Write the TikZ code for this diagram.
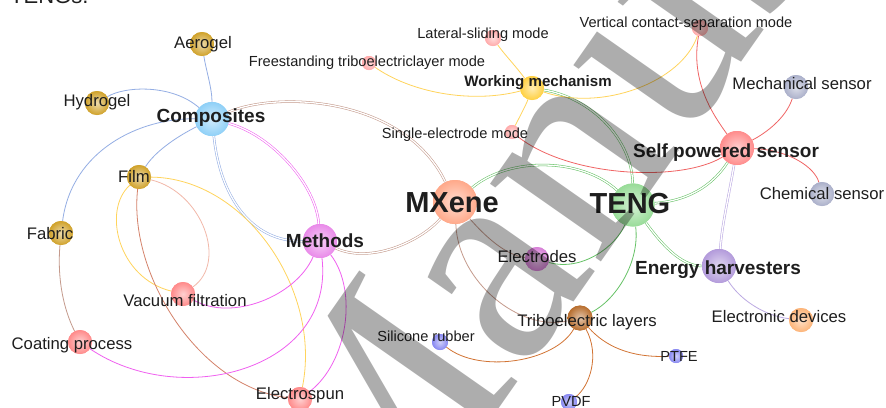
\documentclass[tikz,border=0pt]{standalone}
\usepackage{fontspec}
\setmainfont{Liberation Sans}
\newfontfamily\wmfont{Liberation Serif}
\definecolor{txt}{HTML}{1E1E1E}
\definecolor{cgold}{HTML}{D0A22A}
\definecolor{cblue}{HTML}{8FD0F7}
\definecolor{cmeth}{HTML}{E98AE9}
\definecolor{cmx}{HTML}{FFA98A}
\definecolor{cteng}{HTML}{98DC98}
\definecolor{cpink}{HTML}{FF8A8A}
\definecolor{cmode}{HTML}{FFAAAA}
\definecolor{cwm}{HTML}{FFD040}
\definecolor{csps}{HTML}{FF8C8C}
\definecolor{csens}{HTML}{ABB0CA}
\definecolor{ceh}{HTML}{B39BDB}
\definecolor{ced}{HTML}{FDB478}
\definecolor{celec}{HTML}{D77FD7}
\definecolor{ctribo}{HTML}{B86E2E}
\definecolor{cmat}{HTML}{8888F2}
\definecolor{eblue}{HTML}{94AEE4}
\definecolor{erose}{HTML}{C49A8C}
\definecolor{eyel}{HTML}{FFD45C}
\definecolor{esalm}{HTML}{F2B9AA}
\definecolor{ebrick}{HTML}{D4826A}
\definecolor{emag}{HTML}{F060F0}
\definecolor{egreen}{HTML}{66C266}
\definecolor{ered}{HTML}{F06464}
\definecolor{elav}{HTML}{BBA9E2}
\definecolor{eorange}{HTML}{D27434}
\tikzset{
  gn/.style 2 args={circle, minimum size=#1, inner sep=0pt, draw=none,
    inner color=#2!40!white, outer color=#2},
  lab/.style={anchor=base, inner sep=0pt, text=txt},
  ls/.style={lab, font=\fontsize{14.6}{16}\selectfont},
  lm/.style={lab, font=\fontsize{16.7}{18}\selectfont},
  lb/.style={lab, font=\fontsize{19}{21}\selectfont\bfseries},
  lbw/.style={lab, font=\fontsize{15.1}{17}\selectfont\bfseries},
  lxl/.style={lab, font=\fontsize{29}{31}\selectfont\bfseries},
  ed/.style={line width=0.8pt},
  dbl/.style={line width=0.55pt, double=white, double distance=1.3pt},
}
\begin{document}
\begin{tikzpicture}[x=1pt,y=-1pt]
\useasboundingbox (0,0) rectangle (886,407);
\clip (0,0) rectangle (886,407);
\fill[white] (0,0) rectangle (886,407);

% node positions (circles)
\node[gn={24pt}{cgold}] (aer) at (202,44) {};
\node[gn={24pt}{cgold}] (hyd) at (97,103) {};
\node[gn={34pt}{cblue}] (comp) at (212,119) {};
\node[gn={24pt}{cgold}] (film) at (139,177) {};
\node[gn={24pt}{cgold}] (fab) at (61,233) {};
\node[gn={24pt}{cpink}] (vf) at (183,294) {};
\node[gn={24pt}{cpink}] (cp) at (80,342) {};
\node[gn={24pt}{cpink}] (es) at (300,399) {};
\node[gn={34pt}{cmeth}] (meth) at (320,241) {};
\node[gn={44pt}{cmx}] (mx) at (455,202) {};
\node[gn={43pt}{cteng}] (teng) at (633,205) {};
\node[gn={24pt}{cwm}] (wm) at (532,88) {};
\node[gn={16pt}{cmode}] (ls) at (493,38) {};
\node[gn={14pt}{cmode}] (ft) at (369,63) {};
\node[gn={14pt}{cmode}] (se) at (512,132) {};
\node[gn={16pt}{cmode}] (vc) at (700,28) {};
\node[gn={24pt}{csens}] (ms) at (796,87) {};
\node[gn={34pt}{csps}] (sps) at (737,148) {};
\node[gn={24pt}{csens}] (cs) at (822,194) {};
\node[gn={34pt}{ceh}] (eh) at (719,266) {};
\node[gn={24pt}{ced}] (edv) at (801,320) {};
\node[gn={14pt}{cmat}] (ptfe) at (676,356) {};
\node[gn={25pt}{ctribo}] (tl) at (580,318) {};
\node[gn={24pt}{celec}] (el) at (537,259) {};
\node[gn={16pt}{cmat}] (sr) at (440,342) {};
\node[gn={16pt}{cmat}] (pvdf) at (569,402) {};

% edges
\draw[ed, eblue] (aer) .. controls (206,70) and (212,88) .. (comp);
\draw[ed, eblue] (hyd) .. controls (125,86) and (172,84) .. (comp);
\draw[ed, eblue] (comp) .. controls (140,118) and (72,150) .. (fab);
\draw[ed, eblue] (comp) .. controls (180,135) and (156,150) .. (film);
\draw[dbl, eblue] (comp) .. controls (220,195) and (250,242) .. (meth);
\draw[dbl, emag] (comp) .. controls (272,135) and (316,185) .. (meth);
\draw[dbl, erose] (comp) .. controls (280,90) and (405,98) .. (mx);
\draw[dbl, erose] (meth) .. controls (370,264) and (420,242) .. (mx);
\draw[ed, esalm] (film) .. controls (202,192) and (228,262) .. (vf);
\draw[ed, eyel] (film) .. controls (102,210) and (118,278) .. (vf);
\draw[ed, ebrick] (film) .. controls (128,275) and (200,388) .. (es);
\draw[ed, eyel] (film) .. controls (245,178) and (322,290) .. (es);
\draw[ed, erose] (fab) .. controls (57,280) and (64,310) .. (cp);
\draw[ed, emag] (cp) .. controls (180,410) and (335,370) .. (meth);
\draw[ed, emag] (meth) .. controls (296,296) and (232,322) .. (vf);
\draw[ed, emag] (meth) .. controls (358,290) and (348,362) .. (es);
\draw[ed, erose] (mx) .. controls (485,236) and (505,255) .. (el);
\draw[ed, erose] (mx) .. controls (458,282) and (520,332) .. (tl);
\draw[dbl, egreen] (mx) .. controls (510,156) and (582,158) .. (teng);
\draw[ed, egreen] (el) .. controls (582,272) and (616,246) .. (teng);
\draw[ed, egreen] (teng) .. controls (640,262) and (616,300) .. (tl);
\draw[dbl, egreen] (wm) .. controls (592,98) and (632,140) .. (teng);
\draw[dbl, egreen] (teng) .. controls (695,200) and (716,180) .. (sps);
\draw[dbl, egreen] (teng) .. controls (660,242) and (680,266) .. (eh);
\draw[ed, eyel] (wm) .. controls (514,64) and (504,54) .. (ls);
\draw[ed, eyel] (wm) .. controls (470,104) and (410,92) .. (ft);
\draw[ed, eyel] (wm) .. controls (602,112) and (682,82) .. (vc);
\draw[ed, eyel] (wm) .. controls (526,105) and (520,116) .. (se);
\draw[ed, ered] (se) .. controls (570,178) and (682,182) .. (sps);
\draw[ed, ered] (vc) .. controls (690,82) and (714,116) .. (sps);
\draw[ed, ered] (ms) .. controls (786,118) and (766,133) .. (sps);
\draw[ed, ered] (sps) .. controls (790,150) and (815,168) .. (cs);
\draw[dbl, elav] (sps) .. controls (728,200) and (722,225) .. (eh);
\draw[ed, elav] (eh) .. controls (740,300) and (765,316) .. (edv);
\draw[ed, eorange] (tl) .. controls (555,362) and (480,374) .. (sr);
\draw[ed, eorange] (tl) .. controls (605,346) and (630,358) .. (ptfe);
\draw[ed, eorange] (tl) .. controls (600,355) and (590,386) .. (pvdf);

% circles redrawn on top of the edges
\foreach \n/\x/\y/\s/\c in {aer/202/44/24/cgold, hyd/97/103/24/cgold, comp/212/119/34/cblue,
  film/139/177/24/cgold, fab/61/233/24/cgold, vf/183/294/24/cpink, cp/80/342/24/cpink,
  es/300/399/24/cpink, meth/320/241/34/cmeth, mx/455/202/44/cmx, teng/633/205/43/cteng,
  wm/532/88/24/cwm, ls/493/38/16/cmode, ft/369/63/14/cmode, se/512/132/14/cmode,
  vc/700/28/16/cmode, ms/796/87/24/csens, sps/737/148/34/csps, cs/822/194/24/csens,
  eh/719/266/34/ceh, edv/801/320/24/ced, ptfe/676/356/14/cmat, tl/580/318/25/ctribo,
  el/537/259/24/celec, sr/440/342/16/cmat, pvdf/569/402/16/cmat}
  {\node[gn={\s pt}{\c}] (c\n) at (\x,\y) {};}

% labels
\node[lm] (laer) at (203,48) {Aerogel};
\node[lm] (lhyd) at (97,106) {Hydrogel};
\node[lb] (lcomp) at (211,122) {Composites};
\node[lm] (lfilm) at (134,182) {Film};
\node[lm] (lfab) at (50,239) {Fabric};
\node[lm] (lvf) at (185,306) {Vacuum filtration};
\node[lm] (lcp) at (72,349) {Coating process};
\node[lm] (les) at (300,399) {Electrospun};
\node[lb] (lmeth) at (325,247) {Methods};
\node[lxl] (lmx) at (452,212) {MXene};
\node[lxl] (lteng) at (630,213) {TENG};
\node[lbw] (lwm) at (538,86) {Working mechanism};
\node[ls] (lls) at (483,38) {Lateral-sliding mode};
\node[ls] (lft) at (367,66) {Freestanding triboelectriclayer mode};
\node[ls] (lse) at (455,138) {Single-electrode mode};
\node[ls] (lvc) at (686,27) {Vertical contact-separation mode};
\node[lm] (lms) at (802,89) {Mechanical sensor};
\node[lb] (lsps) at (726,157) {Self powered sensor};
\node[lm] (lcs) at (822,199) {Chemical sensor};
\node[lb] (leh) at (718,274) {Energy harvesters};
\node[lm] (ledv) at (779,322) {Electronic devices};
\node[ls] (lptfe) at (679,361) {PTFE};
\node[lm] (lel) at (537,262) {Electrodes};
\node[lm] (ltl) at (587,326) {Triboelectric layers};
\node[ls] (lsr) at (426,341) {Silicone rubber};
\node[ls] (lpvdf) at (571,406) {PVDF};
\node[anchor=base west, inner sep=0pt, text=txt, font=\fontsize{22}{24}\selectfont] (ltop) at (10,3.5) {TENGs.};

% watermark
\node[font=\wmfont\fontsize{295}{295}\selectfont, rotate=55, anchor=base west,
  inner sep=0pt, text=black, text opacity=0.32] (wmk) at (372,590) {Manuscript};
\end{tikzpicture}
\end{document}
